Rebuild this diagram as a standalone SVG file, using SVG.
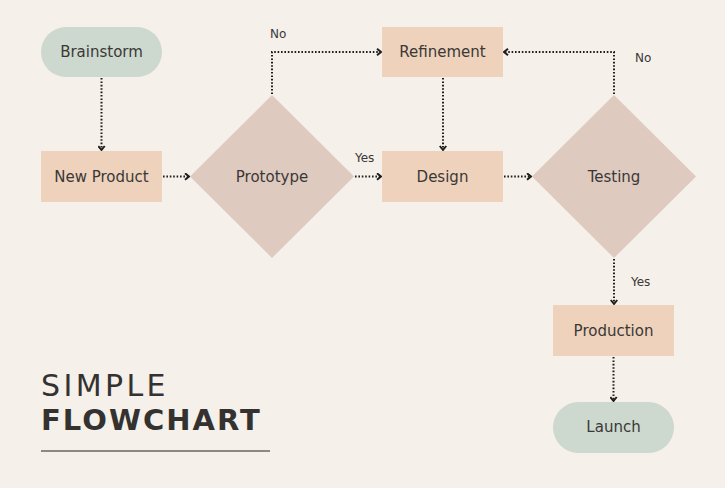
<svg xmlns="http://www.w3.org/2000/svg" width="725" height="488" viewBox="0 0 725 488">
<style>
.pill{fill:#cdd8cf}
.rect{fill:#eed2bc}
.dia{fill:#dfcac0}
.lbl{font-family:"DejaVu Sans","Liberation Sans",sans-serif;font-size:15px;fill:#3a3836;text-anchor:middle}
.small{font-family:"DejaVu Sans","Liberation Sans",sans-serif;font-size:12px;fill:#3a3836}
.con{fill:none;stroke:#1e1e1e;stroke-width:2;stroke-dasharray:1.6 1.8;marker-end:url(#ah)}
</style>
<defs>
<marker id="ah" viewBox="0 0 8 8" refX="5" refY="4" markerWidth="8" markerHeight="8" markerUnits="userSpaceOnUse" orient="auto">
<path d="M1,0.8 L5,4 L1,7.2" fill="none" stroke="#1e1e1e" stroke-width="2"/>
</marker>
</defs>
<rect width="725" height="488" fill="#f5f0ea"/>
<g id="connectors">
<path class="con" d="M101.5,78 V150"/>
<path class="con" d="M163,176.5 H189"/>
<path class="con" d="M272,94 V52 H381"/>
<path class="con" d="M355,176.5 H381"/>
<path class="con" d="M443,78 V150"/>
<path class="con" d="M504,176.5 H531"/>
<path class="con" d="M614,94 V52 H504"/>
<path class="con" d="M614,259 V304"/>
<path class="con" d="M613.5,357 V401"/>
<text class="small" x="270" y="38">No</text>
<text class="small" x="355" y="162">Yes</text>
<text class="small" x="635" y="62">No</text>
<text class="small" x="631" y="286">Yes</text>
</g>
<g id="brainstorm"><rect class="pill" x="41" y="27" width="121" height="50" rx="25"/><text class="lbl" x="101.5" y="57">Brainstorm</text></g>
<g id="newproduct"><rect class="rect" x="41" y="151" width="121" height="51"/><text class="lbl" x="101.5" y="181.5">New Product</text></g>
<g id="prototype"><polygon class="dia" points="272,95 354,176.5 272,258 190,176.5"/><text class="lbl" x="272" y="181.5">Prototype</text></g>
<g id="refinement"><rect class="rect" x="382" y="27" width="121" height="50"/><text class="lbl" x="442.5" y="57">Refinement</text></g>
<g id="design"><rect class="rect" x="382" y="151" width="121" height="51"/><text class="lbl" x="442.5" y="181.5">Design</text></g>
<g id="testing"><polygon class="dia" points="614,95 696,176.5 614,258 532,176.5"/><text class="lbl" x="614" y="181.5">Testing</text></g>
<g id="production"><rect class="rect" x="553" y="305" width="121" height="51"/><text class="lbl" x="613.5" y="335.5">Production</text></g>
<g id="launch"><rect class="pill" x="553" y="402" width="121" height="51" rx="25.5"/><text class="lbl" x="613.5" y="432">Launch</text></g>
<g id="title">
<text x="41" y="396" font-family="DejaVu Sans,Liberation Sans,sans-serif" font-size="30" letter-spacing="3.4" fill="#333230">SIMPLE</text>
<text x="41" y="430" font-family="DejaVu Sans,Liberation Sans,sans-serif" font-weight="bold" font-size="29" letter-spacing="2" fill="#333230">FLOWCHART</text>
<line x1="41" y1="451" x2="270" y2="451" stroke="#6a6663" stroke-width="1.6"/>
</g>
</svg>
